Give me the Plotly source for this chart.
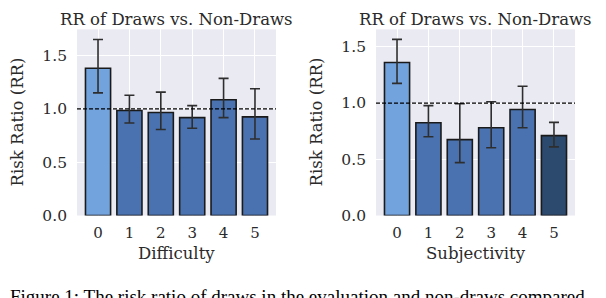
import plotly.graph_objects as go

categories = ["0", "1", "2", "3", "4", "5"]

diff_rr = [1.38, 0.985, 0.966, 0.918, 1.085, 0.925]
diff_hi = [1.65, 1.127, 1.157, 1.03, 1.285, 1.188]
diff_lo = [1.15, 0.867, 0.806, 0.818, 0.918, 0.718]

subj_rr = [1.36, 0.825, 0.675, 0.78, 0.942, 0.71]
subj_hi = [1.566, 0.977, 0.994, 1.011, 1.149, 0.828]
subj_lo = [1.175, 0.70, 0.47, 0.603, 0.78, 0.61]

diff_colors = ["#73a3dc", "#4a72b0", "#4a72b0", "#4a72b0", "#4a72b0", "#4a72b0"]
subj_colors = ["#73a3dc", "#4a72b0", "#4a72b0", "#4a72b0", "#4a72b0", "#2c4a6e"]

title_text = "RR of Draws vs. Non-Draws"
ylabel = "Risk Ratio (RR)"
xlabels = ["Difficulty", "Subjectivity"]
caption = "Figure 1: The risk ratio of draws in the evaluation and non-draws compared"

W, H = 606, 298
FONT = "DejaVu Serif"
TXT = "#2a2a2a"

fig = go.Figure()

panels = [
    (diff_rr, diff_hi, diff_lo, diff_colors, "x", "y", [0, 1.745], [69, 268]),
    (subj_rr, subj_hi, subj_lo, subj_colors, "x2", "y2", [0, 1.655], [368, 567]),
]

layout = dict(
    width=W, height=H,
    margin=dict(l=0, r=0, t=0, b=0),
    paper_bgcolor="white",
    plot_bgcolor="#EAEAF2",
    showlegend=False,
    font=dict(family=FONT, color=TXT, size=15),
)

y_bot, y_top = 214, 22
annotations = []
shapes = []
for i, (rr, hi, lo, cols, xa, ya, yr, xd) in enumerate(panels):
    fig.add_trace(go.Bar(
        x=categories, y=rr, xaxis=xa, yaxis=ya,
        marker=dict(color=cols, line=dict(color="#1a1a1a", width=1.6)),
        error_y=dict(type="data", symmetric=False,
                     array=[h - v for h, v in zip(hi, rr)],
                     arrayminus=[v - l for v, l in zip(rr, lo)],
                     color="#2e2e2e", thickness=1.6, width=5),
        width=0.8,
    ))
    suffix = "" if i == 0 else str(i + 1)
    layout["xaxis" + suffix] = dict(
        domain=[xd[0] / W, xd[1] / W], anchor=ya,
        range=[-0.67, 5.67], showgrid=True, gridcolor="white", gridwidth=1.2,
        tickfont=dict(size=15), ticklabelstandoff=6, zeroline=False,
        showline=False, type="category",
    )
    layout["yaxis" + suffix] = dict(
        domain=[(H - y_bot) / H, (H - y_top) / H], anchor=xa,
        range=yr, tickvals=[0, 0.5, 1.0, 1.5], tickformat=".1f",
        showgrid=True, gridcolor="white", gridwidth=1.2, zeroline=False,
        tickfont=dict(size=15.5), ticklabelstandoff=9, showline=False,
    )
    shapes.append(dict(type="line", xref=xa + " domain", yref=ya,
                       x0=0, x1=1, y0=1.0, y1=1.0,
                       line=dict(color="black", width=1.2, dash="4px,2px"), layer="above"))
    cx = (xd[0] + xd[1]) / 2 / W
    annotations.append(dict(text=title_text, xref="paper", yref="paper",
                            x=cx, y=(H - 12) / H, showarrow=False,
                            xanchor="center", yanchor="middle",
                            font=dict(size=16.5, family=FONT, color=TXT)))
    annotations.append(dict(text=xlabels[i], xref="paper", yref="paper",
                            x=cx, y=(H - 253) / H, showarrow=False,
                            xanchor="center", yanchor="middle",
                            font=dict(size=16.5, family=FONT, color=TXT)))
    annotations.append(dict(text=ylabel, xref="paper", yref="paper",
                            x=(xd[0] - 60) / W, y=(H - (y_bot + y_top) / 2) / H,
                            showarrow=False, textangle=-90,
                            xanchor="center", yanchor="middle",
                            font=dict(size=16.5, family=FONT, color=TXT)))

annotations.append(dict(text=caption, xref="paper", yref="paper",
                        x=0, y=(H - 297) / H, showarrow=False,
                        xanchor="left", yanchor="middle",
                        font=dict(size=19, family="Liberation Serif", color="black")))

layout["annotations"] = annotations
layout["shapes"] = shapes
fig.update_layout(**layout)
fig.write_html("out.html")
